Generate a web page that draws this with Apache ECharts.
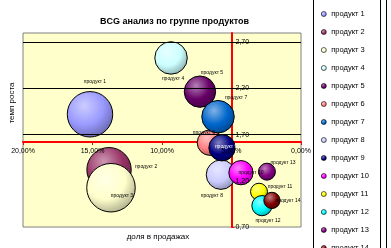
<!DOCTYPE html>
<html><head><meta charset="utf-8">
<script src="https://cdn.jsdelivr.net/npm/echarts@6/dist/echarts.min.js"></script>
<style>html,body{margin:0;padding:0;background:#fff}#c{width:391px;height:248px}</style>
</head><body><div id="c"></div>
<script>
// ---- data ----
const products = ['продукт 1','продукт 2','продукт 3','продукт 4','продукт 5','продукт 6','продукт 7','продукт 8','продукт 9','продукт 10','продукт 11','продукт 12','продукт 13','продукт 14'];
const marketShare = [15.18, 13.81, 13.67, 9.35, 7.27, 6.55, 5.97, 5.76, 5.68, 4.32, 3.02, 2.81, 2.45, 2.09];
const growthRate  = [1.92, 1.32, 1.125, 2.53, 2.165, 1.613, 1.894, 1.266, 1.558, 1.288, 1.082, 0.931, 1.299, 0.988];
const salesVolume = [86, 82, 98, 44, 41, 27, 44, 36, 29, 24.5, 12, 17, 12, 11];
const xTicks = [0, 5, 10, 15, 20];
const yTicks = [0.7, 1.2, 1.7, 2.2, 2.7];
const gridLineValues = [1.7, 2.2, 2.7];
const xMin = 0, xMax = 20, yMin = 0.7, yMax = 2.8;
const xAxisCrossesAt = 1.62;   // growth value where share axis crosses
const yAxisCrossesAt = 5;      // share value where growth axis crosses
const titleText = 'BCG анализ по группе продуктов';
const xName = 'доля в продажах';
const yName = 'темп роста';

// ---- style ----
const colors = ['#9999FF','#993366','#FFFFCC','#CCFFFF','#660066','#FF8080','#0066CC','#CCCCFF','#000080','#FF00FF','#FFFF00','#00FFFF','#800080','#800000'];
const labelOffsets = [[5,-33],[37,-3],[11,8],[2,21],[12,-19],[-6,-10],[18,-19],[-9,21],[4,-1],[10,0],[21,-5],[6,15],[16,-9],[16,0]];
const labelColors = products.map((p,i)=> i===8 ? '#fff' : '#000');
const FONT = 'Liberation Sans';
const G = {left:23, top:33, width:278, height:194};
const maxDiam = 0.25 * Math.min(G.width, G.height);
const maxSize = Math.max(...salesVolume);

function mix(hex, f){
  const n = parseInt(hex.slice(1),16);
  let r=(n>>16)&255, g=(n>>8)&255, b=n&255;
  const t = f>0 ? 255 : 0, a = Math.abs(f);
  r=Math.round(r+(t-r)*a); g=Math.round(g+(t-g)*a); b=Math.round(b+(t-b)*a);
  return 'rgb('+r+','+g+','+b+')';
}
function grad(c){
  return {type:'radial', x:0.38, y:0.32, r:0.75, colorStops:[
    {offset:0, color:mix(c,0.5)},{offset:0.55, color:c},{offset:1, color:mix(c,-0.35)}]};
}

const xOffset = -((xAxisCrossesAt - yMin)/(yMax - yMin))*G.height;
const yOffset = -((xMax - yAxisCrossesAt)/(xMax - xMin))*G.width;
const fmtX = v => Number(v).toFixed(2).replace('.',',') + '%';
const fmtY = v => Number(v).toFixed(2).replace('.',',');

const series = [{
  type:'scatter', data:[], z:1, silent:true,
  markLine:{silent:true, symbol:'none', animation:false,
    lineStyle:{color:'#000', width:1, type:'solid'}, label:{show:false},
    data: gridLineValues.map(v=>({yAxis:v}))}
}];
products.forEach((p,i)=>{
  series.push({
    name:p, type:'scatter', z:2,
    data:[[marketShare[i], growthRate[i], salesVolume[i]]],
    symbolSize: d => maxDiam*Math.sqrt(d[2]/maxSize),
    itemStyle:{color:grad(colors[i]), borderColor:'#000', borderWidth:1, opacity:1},
    label:{show:true, formatter:p, position:'inside', offset:labelOffsets[i],
      fontSize:5, fontFamily:FONT, color:labelColors[i]},
    emphasis:{disabled:true}
  });
});

const baseX = {type:'value', min:xMin, max:xMax, inverse:true, position:'bottom', offset:xOffset, splitLine:{show:false}};
const baseY = {type:'value', min:yMin, max:yMax, position:'left', offset:yOffset, splitLine:{show:false}};

const option = {
  animation:false,
  backgroundColor:'#fff',
  grid:{left:G.left, top:G.top, width:G.width, height:G.height, show:true,
    backgroundColor:'#FFFFCC', borderColor:'#808080', borderWidth:1},
  xAxis:[
    Object.assign({}, baseX, {z:1,
      axisLine:{show:true, lineStyle:{color:'#FF0000', width:2}},
      axisTick:{show:true, length:3, lineStyle:{color:'#FF0000', width:1}, customValues:xTicks},
      axisLabel:{show:false}}),
    Object.assign({}, baseX, {z:10,
      axisLine:{show:false}, axisTick:{show:false},
      axisLabel:{show:true, customValues:xTicks, formatter:fmtX, margin:6, fontSize:7, fontFamily:FONT, color:'#000'}})
  ],
  yAxis:[
    Object.assign({}, baseY, {z:1,
      axisLine:{show:true, lineStyle:{color:'#FF0000', width:2}},
      axisTick:{show:true, inside:true, length:3, lineStyle:{color:'#FF0000', width:1}, customValues:yTicks},
      axisLabel:{show:false}}),
    Object.assign({}, baseY, {z:10,
      axisLine:{show:false}, axisTick:{show:false},
      axisLabel:{show:true, inside:true, customValues:yTicks, formatter:fmtY, margin:4, fontSize:7, fontFamily:FONT, color:'#000'}})
  ],
  legend:{data:products, orient:'vertical', left:321, top:10, height:400, itemWidth:5, itemHeight:5, itemGap:10,
    icon:'circle', padding:0, selectedMode:false,
    itemStyle:{borderWidth:0.6},
    textStyle:{fontSize:7.5, lineHeight:8, fontFamily:FONT, color:'#000'}},
  graphic:[
    {type:'text', x:174.5, y:22, style:{text:titleText, fontSize:9, fontWeight:'bold', fontFamily:FONT, fill:'#000', textAlign:'center', textVerticalAlign:'middle'}},
    {type:'text', x:158, y:237, style:{text:xName, fontSize:8, fontFamily:FONT, fill:'#000', textAlign:'center', textVerticalAlign:'middle'}},
    {type:'text', x:12, y:103, rotation:Math.PI/2, style:{text:yName, fontSize:8, fontFamily:FONT, fill:'#000', textAlign:'center', textVerticalAlign:'middle'}},
    {type:'line', shape:{x1:313.5, y1:0, x2:313.5, y2:248}, style:{stroke:'#000', lineWidth:1}},
    {type:'line', shape:{x1:380.5, y1:0, x2:380.5, y2:248}, style:{stroke:'#000', lineWidth:1}},
    {type:'line', shape:{x1:386.5, y1:0, x2:386.5, y2:248}, style:{stroke:'#000', lineWidth:1}}
  ],
  series: series
};
const chart = echarts.init(document.getElementById('c'), null, {renderer:'canvas'});
chart.setOption(option);
</script></body></html>
